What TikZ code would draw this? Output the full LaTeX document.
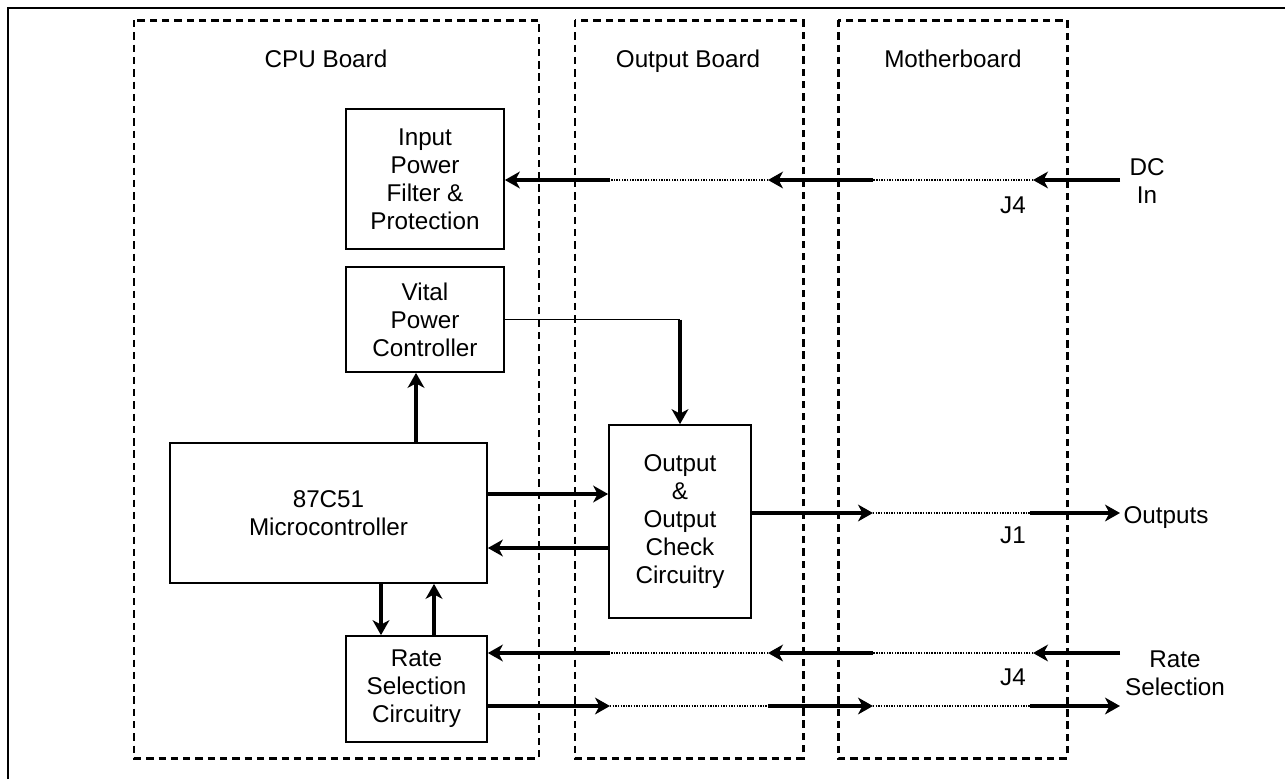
\documentclass[tikz,border=0pt]{standalone}
\usepackage{fontspec}
\setmainfont{Liberation Sans}
\usetikzlibrary{arrows.meta, positioning, calc}

\begin{document}
\begin{tikzpicture}[x=0.02cm, y=-0.02cm,
  every node/.style={font=\fontsize{13.8}{15.9}\selectfont, align=center},
  blk/.style={draw, line width=1pt, inner sep=0pt},
  board/.style={draw, line width=1.7pt, dash pattern=on 4.2pt off 2.8pt},
  sig/.style={line width=2pt, -{Stealth[length=8.5pt, width=9.5pt, inset=2.5pt]}},
  link/.style={line width=1.1pt, dash pattern=on 0.8pt off 0.7pt},
  wire/.style={line width=0.9pt}]
\useasboundingbox (0,0) rectangle (1285,779);
\draw[line width=1.3pt] (8,779) -- (8,8) -- (1285,8);

% boards
\draw[board] (134,20) rectangle (539,758);
\draw[board] (575,20) rectangle (803,758);
\draw[board] (838,20) rectangle (1067,758);
\node[anchor=base] (cpu) at (326,67) {CPU Board};
\node[anchor=base] (outb) at (688,67) {Output Board};
\node[anchor=base] (mother) at (953,67) {Motherboard};

% blocks
\node[blk, minimum width=3.16cm, minimum height=2.8cm] (input) at (425,179) {Input\\Power\\Filter \&\\Protection};
\node[blk, minimum width=3.16cm, minimum height=2.1cm] (vital) at (425,319.5) {Vital\\Power\\Controller};
\node[blk, minimum width=6.34cm, minimum height=2.8cm] (micro) at (328.5,513) {87C51\\Microcontroller};
\node[blk, minimum width=2.84cm, minimum height=3.86cm] (output) at (680,521.5) {Output\\\&\\Output\\Check\\Circuitry};
\node[blk, minimum width=2.82cm, minimum height=2.12cm] (rate) at (416.5,689) {Rate\\Selection\\Circuitry};

% outside labels
\node (dcin) at (1147,181) {DC\\In};
\node (outs) at (1166,518) {Outputs};
\node (ratein) at (1175,673) {Rate\\Selection};
\node (j4a) at (1013,205) {J4};
\node (j1) at (1013,535) {J1};
\node (j4b) at (1013,677) {J4};

% DC in
\coordinate (dc0) at (1120,180);
\coordinate (dc1) at (1033,180);
\coordinate (dc2) at (873,180);
\coordinate (dc3) at (768,180);
\coordinate (dc4) at (610,180);
\draw[sig] (dc0) -- (dc1);
\draw[link] (dc1) -- (dc2);
\draw[sig] (dc2) -- (dc3);
\draw[link] (dc3) -- (dc4);
\draw[sig] (dc4) -- (input.east |- dc4);

% vital power to output
\coordinate (bend) at (vital.east -| output.north);
\draw[wire] (vital.east) -- (bend);
\draw[sig] (bend) -- (output.north);

% micro
\coordinate (up) at (416,0);
\draw[sig] (micro.north -| up) -- (vital.south -| up);
\coordinate (m1) at (0,494);
\coordinate (m2) at (0,548);
\draw[sig] (micro.east |- m1) -- (output.west |- m1);
\draw[sig] (output.west |- m2) -- (micro.east |- m2);
\coordinate (rd) at (381,0);
\coordinate (ru) at (434,0);
\draw[sig] (micro.south -| rd) -- (rate.north -| rd);
\draw[sig] (rate.north -| ru) -- (micro.south -| ru);

% outputs
\coordinate (o1) at (873,513);
\coordinate (o2) at (1030,513);
\coordinate (o3) at (1120,513);
\draw[sig] (output.east |- o1) -- (o1);
\draw[link] (o1) -- (o2);
\draw[sig] (o2) -- (o3);

% rate selection in
\coordinate (r0) at (1120,653);
\coordinate (r1) at (1033,653);
\coordinate (r2) at (873,653);
\coordinate (r3) at (768,653);
\coordinate (r4) at (610,653);
\draw[sig] (r0) -- (r1);
\draw[link] (r1) -- (r2);
\draw[sig] (r2) -- (r3);
\draw[link] (r3) -- (r4);
\draw[sig] (r4) -- (rate.east |- r4);

% rate selection out
\coordinate (s1) at (610,706);
\coordinate (s2) at (768,706);
\coordinate (s3) at (873,706);
\coordinate (s4) at (1030,706);
\coordinate (s5) at (1120,706);
\draw[sig] (rate.east |- s1) -- (s1);
\draw[link] (s1) -- (s2);
\draw[sig] (s2) -- (s3);
\draw[link] (s3) -- (s4);
\draw[sig] (s4) -- (s5);
\end{tikzpicture}
\end{document}
